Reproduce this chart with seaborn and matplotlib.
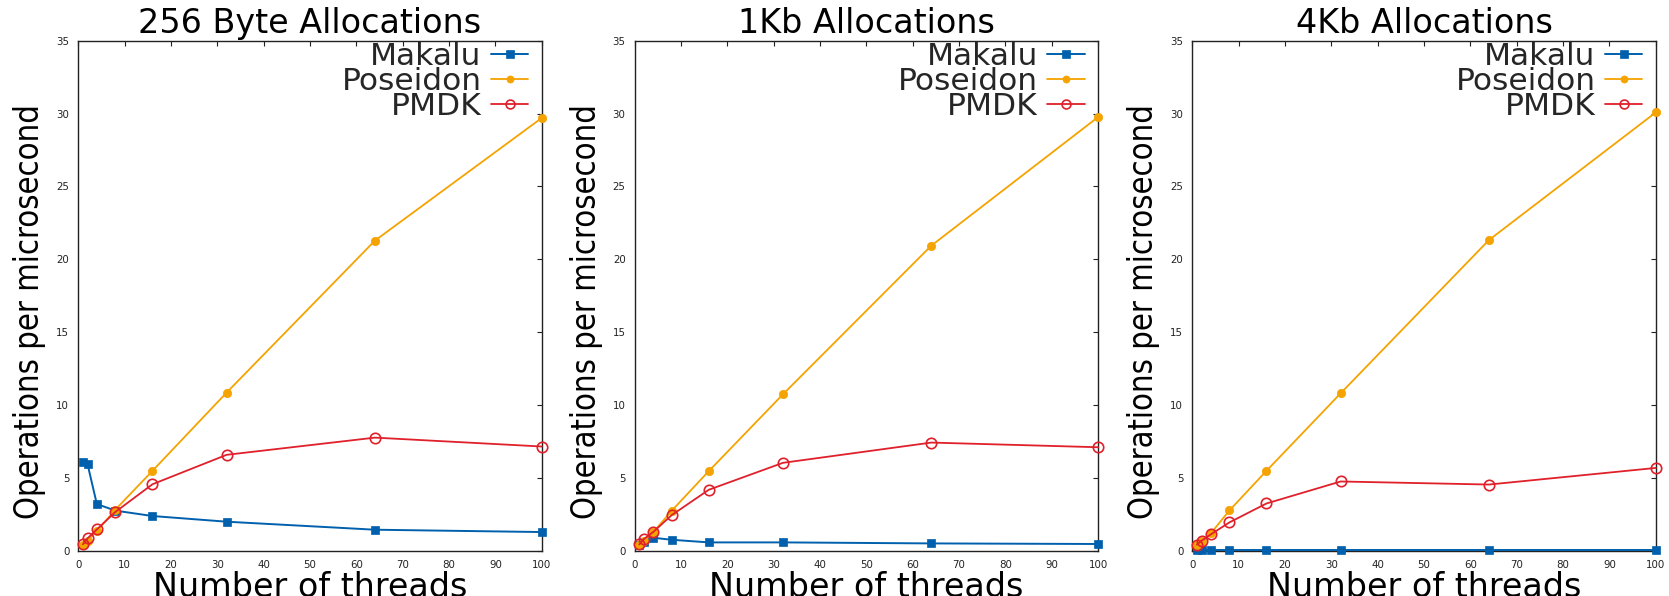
import numpy as np
import pandas as pd
import matplotlib
matplotlib.use("Agg")
import matplotlib.pyplot as plt
import seaborn as sns
from matplotlib import font_manager

# ---------------- data ----------------
threads = [1, 2, 4, 8, 16, 32, 64, 100]
series_names = ["Makalu", "Poseidon", "PMDK"]
panel_titles = ["256 Byte Allocations", "1Kb Allocations", "4Kb Allocations"]

makalu_256 = [6.08, 5.93, 3.20, 2.75, 2.38, 1.99, 1.44, 1.28]
poseidon_256 = [0.42, 0.70, 1.35, 2.82, 5.48, 10.85, 21.28, 29.70]
pmdk_256 = [0.44, 0.85, 1.46, 2.66, 4.56, 6.58, 7.76, 7.15]

makalu_1k = [0.39, 0.62, 0.89, 0.75, 0.57, 0.57, 0.50, 0.46]
poseidon_1k = [0.40, 0.70, 1.26, 2.74, 5.46, 10.73, 20.93, 29.76]
pmdk_1k = [0.43, 0.80, 1.28, 2.44, 4.18, 6.03, 7.42, 7.10]

makalu_4k = [0.02, 0.02, 0.02, 0.02, 0.02, 0.02, 0.02, 0.02]
poseidon_4k = [0.40, 0.70, 1.19, 2.76, 5.48, 10.80, 21.32, 30.08]
pmdk_4k = [0.42, 0.68, 1.12, 1.94, 3.24, 4.75, 4.54, 5.68]

panels = [
    [makalu_256, poseidon_256, pmdk_256],
    [makalu_1k, poseidon_1k, pmdk_1k],
    [makalu_4k, poseidon_4k, pmdk_4k],
]

x_ticks = list(range(0, 101, 10))
y_ticks = list(range(0, 36, 5))

# ---------------- style ----------------
sns.set_theme(style="white")
plt.rcParams["font.family"] = ["DejaVu Sans"]
plt.rcParams["axes.edgecolor"] = "#222222"
plt.rcParams["axes.linewidth"] = 1.0

colors = {"Makalu": "#0060ad", "Poseidon": "#f5a300", "PMDK": "#e0202a"}
styles = {
    "Makalu": dict(marker="s", markersize=6.0, markerfacecolor=colors["Makalu"],
                   markeredgecolor=colors["Makalu"], markeredgewidth=0.5, linewidth=1.4),
    "Poseidon": dict(marker="o", markersize=6.0, markerfacecolor=colors["Poseidon"],
                     markeredgecolor=colors["Poseidon"], markeredgewidth=0.5, linewidth=1.3),
    "PMDK": dict(marker="o", markersize=7.5, markerfacecolor="none",
                 markeredgecolor=colors["PMDK"], markeredgewidth=1.2, linewidth=1.3),
}

# narrow font for the y label, if one is installed
ttf = font_manager.fontManager.ttflist
names = {f.name for f in ttf}
ylab_kw = dict(family="DejaVu Sans")
if "Liberation Sans Narrow" in names:
    ylab_kw = dict(family="Liberation Sans Narrow")
elif any(f.name == "DejaVu Sans" and str(f.stretch) == "condensed" for f in ttf):
    ylab_kw = dict(family="DejaVu Sans", fontstretch="condensed")
elif "Liberation Sans" in names:
    ylab_kw = dict(family="Liberation Sans")

W, H = 1669, 596
fig = plt.figure(figsize=(W / 100, H / 100), dpi=100)

lefts_px = [78.3, 634.6, 1192.3]
width_px = 463.5
top_px, bottom_px = 40.7, 550.7
h_px = bottom_px - top_px
ylabel_len_px = 417.0

ylabels = []
for i, (title, vals) in enumerate(zip(panel_titles, panels)):
    ax = fig.add_axes([lefts_px[i] / W, (H - bottom_px) / H,
                       width_px / W, h_px / H])
    for name, v in zip(series_names, vals):
        df = pd.DataFrame({"threads": threads, "ops": v})
        sns.lineplot(data=df, x="threads", y="ops", ax=ax, color=colors[name],
                     label=name, clip_on=False, zorder=3, **styles[name])
    ax.set_xlim(0, 100)
    ax.set_ylim(0, 35)
    ax.set_xticks(x_ticks)
    ax.set_yticks(y_ticks)
    ax.tick_params(axis="both", which="major", direction="in", length=3.5, width=0.8,
                   colors="#222222", labelsize=7.4, top=True, right=True,
                   labeltop=False, labelright=False)
    ax.tick_params(axis="x", pad=6.5)
    ax.tick_params(axis="y", pad=6.5)
    for sp in ax.spines.values():
        sp.set_visible(True)
        sp.set_color("#222222")
        sp.set_linewidth(1.0)

    ax.set_title(title, fontsize=24, pad=5.3, color="black")
    ax.set_xlabel("Number of threads", fontsize=24, color="black")
    ax.xaxis.set_label_coords(0.5, (bottom_px - 570.7) / h_px)
    yl = ax.set_ylabel("Operations per microsecond", color="black", va="center",
                       fontsize=24, **ylab_kw)
    ax.yaxis.set_label_coords(-48.3 / width_px, (bottom_px - 311.7) / h_px)
    ylabels.append(yl)

    ax.legend(loc="upper right", bbox_to_anchor=(1 - 13.4 / width_px, 0.997),
              frameon=False, fontsize=22.5, markerfirst=False, labelspacing=-0.13,
              handlelength=1.2, handletextpad=0.3, borderpad=0.0,
              borderaxespad=0.0, markerscale=0.85)

# fit the y label length to the reference
fig.canvas.draw()
renderer = fig.canvas.get_renderer()
for yl in ylabels:
    ext = yl.get_window_extent(renderer)
    cur = ext.height
    yl.set_fontsize(24 * ylabel_len_px / cur)

fig.savefig("out.png", dpi=100)
